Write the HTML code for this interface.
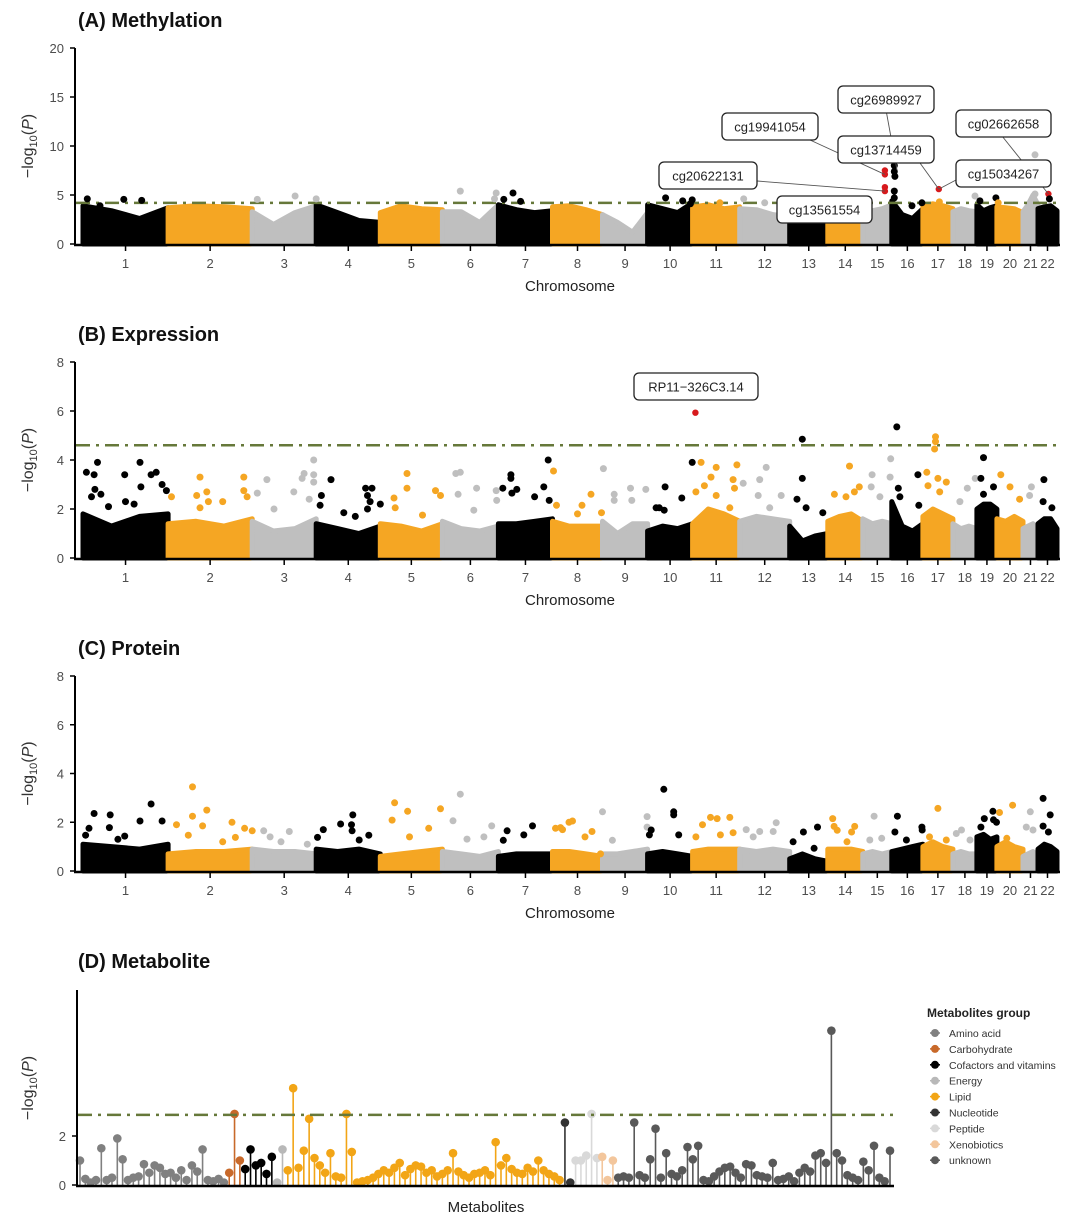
<!DOCTYPE html>
<html><head><meta charset="utf-8">
<style>
html,body{margin:0;padding:0;background:#fff;}
svg{display:block;font-family:"Liberation Sans",Arial,sans-serif;}
</style></head>
<body>
<svg id="fig" width="1080" height="1229" viewBox="0 0 1080 1229" xmlns="http://www.w3.org/2000/svg"></svg>
<script>
// ---------- DATA ----------
const chromNames = ["1","2","3","4","5","6","7","8","9","10","11","12","13","14","15","16","17","18","19","20","21","22"];
const chromLen = [85,84,64,64,62,56,54,50,45,45,47,50,38,35,29,31,30,24,20,26,15,19];

// band profiles (dense point cloud tops) per chromosome
const bandA = [[3.9,3.4,2.6,3.7],[3.7,3.9,3.8,3.6],[3.3,2.0,3.2,3.9],[4.0,3.2,2.4,2.2],[3.2,3.9,3.6,3.5],[3.3,3.3,2.2,4.0],[4.0,3.5,3.2,3.4],[3.8,3.9,3.5,3.0],[3.0,2.2,1.2,3.2],[4.0,3.6,3.2,4.2],[3.8,4.0,3.6,3.8],[3.6,3.5,3.0,2.8],[2.5,2.5,2.5,2.5],[2.6,2.6,2.6,2.6],[3.0,3.4,3.6,4.0],[4.4,3.0,2.6,3.6],[3.9,4.1,3.9,3.6],[3.3,3.6,3.4,3.3],[4.0,3.4,3.7,3.9],[3.8,3.7,3.6,3.2],[3.3,4.0,5.0,4.0],[3.6,3.8,3.9,3.4]];
const bandB = [[1.8,1.3,1.7,1.8],[1.4,1.5,1.3,1.6],[1.5,1.1,1.2,1.6],[1.4,1.2,1.0,1.3],[1.4,1.3,1.1,1.4],[1.5,1.2,1.1,1.3],[1.4,1.4,1.5,1.6],[1.5,1.3,1.3,1.3],[1.5,1.0,1.4,1.4],[1.1,1.3,1.2,1.4],[1.4,2.0,1.8,1.5],[1.5,1.7,1.6,1.5],[1.3,0.7,0.9,1.0],[1.5,1.7,1.8,1.5],[1.6,1.4,1.5,1.4],[2.3,1.3,1.1,1.4],[1.7,2.0,1.8,1.6],[1.4,1.2,1.3,1.2],[2.0,2.2,2.2,2.0],[1.6,1.5,1.7,1.5],[1.2,1.3,1.4,1.2],[1.4,1.6,1.6,1.2]];
const bandC = [[1.1,1.0,0.9,1.1],[0.7,0.8,0.8,0.9],[0.9,0.8,0.8,0.7],[0.9,0.8,0.9,0.7],[0.6,0.7,0.8,0.9],[0.8,0.7,0.6,0.8],[0.6,0.7,0.7,0.7],[0.8,0.8,0.7,0.6],[0.7,0.7,0.8,0.9],[0.7,0.8,0.7,0.6],[0.8,0.9,0.9,0.9],[0.9,0.8,0.9,0.8],[0.5,0.7,0.5,0.4],[0.9,0.9,0.9,0.8],[0.7,0.8,0.7,0.8],[0.8,0.9,1.0,1.1],[1.0,1.2,1.0,0.9],[0.7,0.8,0.7,0.7],[1.4,1.5,1.3,1.4],[1.0,1.2,1.0,0.9],[0.6,0.7,0.8,0.6],[0.9,1.1,1.0,0.8]];

// Panel A outlier points: chromosome index, relative position, -log10 P, highlighted
const aChr = [0,0,0,0,2,2,2,5,5,5,6,6,6,9,9,9,9,10,11,11,14,14,14,14,15,15,15,15,15,15,15,16,16,17,18,18,19,20,20,20,21,21];
const aPos = [0.05,0.48,0.69,0.2,0.08,0.67,1.0,0.32,0.96,0.93,0.27,0.1,0.41,0.4,0.78,0.99,0.95,0.58,0.08,0.5,0.76,0.76,0.76,0.76,0.08,0.08,0.1,0.08,0.08,0.65,0.97,0.53,0.55,0.92,0.15,0.95,0.05,0.8,0.8,0.8,0.55,0.6];
const aVal = [4.6,4.55,4.45,3.9,4.55,4.9,4.6,5.4,5.2,4.6,5.2,4.55,4.35,4.7,4.4,4.5,4.1,4.2,4.6,4.2,7.5,7.1,5.8,5.4,8.0,7.4,6.9,5.4,4.7,3.9,4.2,5.6,4.3,4.9,4.4,4.7,4.2,9.1,6.4,5.1,5.1,4.6];
const aRed = [0,0,0,0,0,0,0,0,0,0,0,0,0,0,0,0,0,0,0,0,1,1,1,1,0,0,0,0,0,0,0,1,0,0,0,0,0,0,0,0,1,0];
const aLabels = ["cg26989927","cg19941054","cg13714459","cg02662658","cg20622131","cg15034267","cg13561554"];

// Panel B outliers
const bChr = [0,0,0,0,0,0,0,0,0,0,0,0,0,0,0,0, 1,1,1,1,1,1,1,1,1,1, 2,2,2,2,2,2,2,2,2,2, 3,3,3,3,3,3,3,3,3,3,3, 4,4,4,4,4,4,4, 5,5,5,5,5,5,5, 6,6,6,6,6,6,6,6,6, 7,7,7,7,7,7, 8,8,8,8,8,8, 9,9,9,9,9,9, 10, 10,10,10,10,10,10,10,10,10,10, 11,11,11,11,11,11, 12,12,12,12,12, 13,13,13,13,13, 14,14,14,14,14, 15,15,15,15,15, 16,16,16,16,16,16,16,16, 17,17,17, 18,18,18,18, 19,19,19, 20,20, 21,21,21];
const bPos = [0.04,0.17,0.13,0.14,0.21,0.49,0.67,0.8,0.86,0.68,0.93,0.98,0.5,0.1,0.3,0.6, 0.38,0.9,0.34,0.46,0.65,0.9,0.04,0.94,0.48,0.38, 0.96,0.81,0.96,0.23,0.08,0.65,0.89,0.34,0.78,0.96, 0.23,0.08,0.06,0.77,0.87,0.8,0.84,1.0,0.43,0.61,0.8, 0.43,0.43,0.22,0.89,0.97,0.24,0.68, 0.24,0.32,0.61,0.28,0.96,0.97,0.56, 0.08,0.23,0.23,0.34,0.25,0.84,0.92,0.67,0.94, 0.02,0.08,0.77,0.59,0.5,0.98, 0.02,0.26,0.62,0.96,0.65,0.26, 0.39,0.76,0.99,0.19,0.26,0.37, 0.06, 0.18,0.5,0.94,0.39,0.86,0.25,0.07,0.89,0.5,0.79, 0.53,0.4,0.07,0.83,0.37,0.6, 0.33,0.33,0.19,0.87,0.43, 0.62,0.9,0.19,0.76,0.52, 0.96,0.32,0.94,0.29,0.59, 0.16,0.84,0.21,0.87,0.26, 0.42,0.42,0.39,0.13,0.5,0.78,0.17,0.56, 0.6,0.29,0.93, 0.33,0.2,0.83,0.33, 0.15,0.5,0.87, 0.56,0.44, 0.31,0.27,0.73];
const bVal = [3.5,3.9,3.4,2.8,2.6,3.4,3.9,3.4,3.5,2.9,3.0,2.75,2.3,2.5,2.1,2.2, 3.3,3.3,2.55,2.7,2.3,2.75,2.5,2.5,2.3,2.05, 4.0,3.45,3.4,3.2,2.65,2.7,2.4,2.0,3.25,3.1, 3.2,2.55,2.15,2.85,2.85,2.55,2.3,2.2,1.85,1.7,2.0, 3.45,2.85,2.45,2.75,2.55,2.05,1.75, 3.45,3.5,2.85,2.6,2.75,2.35,1.95, 2.85,3.4,3.25,2.8,2.65,2.9,4.0,2.5,2.35, 3.55,2.15,2.6,2.15,1.8,1.85, 3.65,2.6,2.85,2.8,2.35,2.35, 2.9,2.45,3.9,2.05,2.05,1.95, 5.93, 3.9,3.7,3.8,3.3,3.2,2.95,2.7,2.85,2.55,2.05, 3.7,3.2,3.05,2.55,2.55,2.05, 4.85,3.25,2.4,1.85,2.05, 3.75,2.9,2.6,2.7,2.5, 4.05,3.4,3.3,2.9,2.5, 5.35,3.4,2.85,2.15,2.5, 4.95,4.75,4.45,3.5,3.25,3.1,2.95,2.7, 2.85,2.3,3.25, 4.1,3.25,2.9,2.6, 3.4,2.9,2.4, 2.9,2.55, 3.2,2.3,2.05];
const bRedIndex = 88;
const bLabel = "RP11\u2212326C3.14";

// Panel C outliers
const cChr = [0,0,0,0,0,0,0,0,0,0, 1,1,1,1,1,1,1,1,1,1,1, 2,2,2,2,2, 3,3,3,3,3,3,3,3, 4,4,4,4,4,4, 5,5,5,5,5, 6,6,6,6, 7,7,7,7,7,7,7,7, 8,8,8,8, 9,9,9,9,9,9, 10,10,10,10,10,10,10, 11,11,11,11,11, 12,12,12,12, 13,13,13,13,13,13, 14,14,14, 15,15,15,15,15, 16,16,16, 17,17,17, 18,18,18,18,18, 19,19,19, 20,20,20, 21,21,21,21];
const cPos = [0.13,0.32,0.8,0.67,0.93,0.07,0.31,0.03,0.49,0.41, 0.29,0.46,0.29,0.76,0.1,0.91,1.0,0.41,0.8,0.65,0.24, 0.18,0.58,0.45,0.86,0.28, 0.57,0.11,0.38,0.55,0.56,0.82,0.02,0.67, 0.23,0.44,0.97,0.19,0.78,0.47, 0.32,0.19,0.88,0.44,0.74, 0.63,0.16,0.47,0.09, 0.06,0.16,0.33,0.4,0.2,0.65,0.79,0.96, 0.0,0.22,0.99,0.99, 0.36,0.58,0.58,0.69,0.08,0.04, 0.38,0.52,0.79,0.21,0.86,0.59,0.07, 0.73,0.4,0.13,0.67,0.27, 0.73,0.36,0.09,0.64, 0.14,0.18,0.77,0.27,0.68,0.55, 0.39,0.65,0.24, 0.18,0.1,0.97,0.98,0.47, 0.5,0.78,0.22, 0.14,0.36,0.71, 0.8,0.37,0.83,0.2,0.98, 0.6,0.1,0.38, 0.49,0.67,0.22, 0.27,0.64,0.27,0.55];
const cVal = [2.36,2.3,2.75,2.05,2.05,1.75,1.78,1.47,1.43,1.3, 3.45,2.5,2.25,2.0,1.9,1.75,1.65,1.85,1.38,1.2,1.47, 1.65,1.62,1.2,1.1,1.4, 2.3,1.7,1.93,1.9,1.65,1.47,1.38,1.27, 2.8,2.45,2.55,2.09,1.75,1.4, 3.15,2.06,1.85,1.31,1.4, 1.85,1.65,1.48,1.26, 1.75,1.78,2.0,2.05,1.7,1.4,1.62,0.7, 2.43,1.26,2.23,1.8, 3.35,2.43,2.3,1.48,1.68,1.48, 2.2,2.15,2.2,1.9,1.57,1.48,1.4, 1.98,1.62,1.7,1.62,1.4, 1.8,1.6,1.2,0.93, 2.15,1.83,1.83,1.67,1.6,1.2, 2.25,1.34,1.27, 2.25,1.6,1.8,1.68,1.27, 2.57,1.27,1.4, 1.54,1.68,1.27, 2.45,2.15,2.1,1.8,2.0, 2.7,2.4,1.34, 2.43,1.68,1.8, 2.98,2.3,1.84,1.6];

// Panel D metabolites
const metGroups = ["Amino acid","Carbohydrate","Cofactors and vitamins","Energy","Lipid","Nucleotide","Peptide","Xenobiotics","unknown"];
const metColors = ["#808080","#c8692a","#000000","#b8b8b8","#f2a516","#333333","#d9d9d9","#f3c69c","#595959"];
const metAmino = [1.0,0.25,0.1,0.2,1.5,0.2,0.3,1.9,1.05,0.2,0.3,0.35,0.85,0.5,0.8,0.7,0.45,0.5,0.3,0.6,0.2,0.8,0.55,1.45,0.2,0.15,0.25,0.1];
const metCarb = [0.5,2.9,1.0];
const metCofactor = [0.65,1.45,0.8,0.9,0.45,1.15];
const metEnergy = [0.1,1.45];
const metLipid = [0.6,3.95,0.7,1.4,2.7,1.1,0.8,0.5,1.3,0.35,0.3,2.9,1.35,0.1,0.15,0.2,0.3,0.45,0.6,0.5,0.7,0.9,0.4,0.65,0.8,0.75,0.5,0.6,0.35,0.45,0.6,1.3,0.55,0.4,0.3,0.45,0.5,0.6,0.4,1.75,0.8,1.1,0.65,0.5,0.45,0.7,0.55,1.0,0.6,0.45,0.35,0.2];
const metNucleotide = [2.55,0.1];
const metPeptide = [1.0,1.0,1.2,2.9,1.1];
const metXeno = [1.15,0.2,1.0];
const metUnknown = [0.3,0.35,0.3,2.55,0.4,0.3,1.05,2.3,0.3,1.3,0.45,0.35,0.6,1.55,1.05,1.6,0.2,0.15,0.35,0.55,0.7,0.75,0.5,0.3,0.85,0.8,0.4,0.35,0.3,0.9,0.2,0.25,0.35,0.15,0.5,0.7,0.55,1.2,1.3,0.9,6.3,1.3,1.0,0.4,0.3,0.2,0.95,0.6,1.6,0.3,0.15,1.4];
const metThreshold = 2.86;

// ---------- DRAW ----------
const NS = "http://www.w3.org/2000/svg";
const svg = document.getElementById("fig");
const chromColors = ["#000000","#f5a623","#bfbfbf"];
function mk(tag, attrs, parent){
  const e = document.createElementNS(NS, tag);
  for (const k in attrs) e.setAttribute(k, attrs[k]);
  (parent||svg).appendChild(e);
  return e;
}
const X0 = 83, X1 = 1057;
const totalLen = chromLen.reduce((a,b)=>a+b,0);
const chromStart = [];
{ let acc = 0; chromLen.forEach(l=>{ chromStart.push(acc); acc += l; }); }
function xG(ci, frac){ return X0 + (chromStart[ci] + frac*chromLen[ci]) / totalLen * (X1-X0); }

function yAxisTitle(g, cx, cy){
  const t = mk("text", {x:cx, y:cy, transform:`rotate(-90 ${cx} ${cy})`, "text-anchor":"middle", "font-size":"16", fill:"#333"}, g);
  
  
  t.innerHTML = '\u2212log<tspan font-size="11" dy="4">10</tspan><tspan dy="-4">(</tspan><tspan font-style="italic">P</tspan>)';
}

function manhattan(opts){
  const g = mk("g", {});
  
  
  const yS = v => opts.y0 - v/opts.ymax*(opts.y0-opts.y1);
  // title
  const tt = mk("text", {x:78, y:opts.titleY, "font-size":"20", "font-weight":"bold", fill:"#111"}, g);
  tt.textContent = opts.title;
  
  
  // bands
  opts.band.forEach((prof, ci) => {
    const col = chromColors[ci%3];
    let pts = [`${xG(ci,0).toFixed(1)},${opts.y0}`];
    prof.forEach((v, k) => {
      const f = prof.length===1?0.5:k/(prof.length-1);
      pts.push(`${xG(ci,f).toFixed(1)},${yS(v).toFixed(1)}`);
    });
    pts.push(`${xG(ci,1).toFixed(1)},${opts.y0}`);
    const p = mk("polygon", {points:pts.join(" "), fill:col, stroke:col, "stroke-width":"5", "stroke-linejoin":"round"}, g);
    
    
  });
  // threshold
  if (opts.thr !== null){
    const l = mk("line", {x1:76, x2:X1+3, y1:yS(opts.thr), y2:yS(opts.thr), stroke:"#66783a", "stroke-width":"2.5", "stroke-dasharray":"14 6 3 6"}, g);
    
    
  }
  // points
  opts.chr.forEach((ci, i) => {
    const red = opts.red(i);
    const c = mk("circle", {cx:xG(ci, opts.pos[i]).toFixed(1), cy:yS(opts.val[i]).toFixed(1), r: red?3.2:3.5, fill: red?"#d7191c":chromColors[ci%3]}, g);
    
    
  });
  // axes
  const ya = mk("line", {x1:75, x2:75, y1:opts.y1, y2:opts.y0+1, stroke:"#000", "stroke-width":"2"}, g);
  
  
  opts.ticks.forEach(v => {
    mk("line", {x1:70, x2:75, y1:yS(v), y2:yS(v), stroke:"#000", "stroke-width":"1.5"}, g);
    const t = mk("text", {x:64, y:yS(v)+5, "text-anchor":"end", "font-size":"13", fill:"#4d4d4d"}, g);
    t.textContent = v;
    
    
  });
  const xa = mk("line", {x1:74, x2:X1+3, y1:opts.y0+1, y2:opts.y0+1, stroke:"#000", "stroke-width":"2.5"}, g);
  
  
  chromNames.forEach((n, ci) => {
    const x = xG(ci, 0.5);
    mk("line", {x1:x, x2:x, y1:opts.y0+1, y2:opts.y0+7, stroke:"#000", "stroke-width":"1.5"}, g);
    const t = mk("text", {x:x, y:opts.y0+24, "text-anchor":"middle", "font-size":"13", fill:"#4d4d4d"}, g);
    t.textContent = n;
    
    
  });
  const xt = mk("text", {x:570, y:opts.y0+47, "text-anchor":"middle", "font-size":"15", fill:"#222"}, g);
  xt.textContent = "Chromosome";
  
  
  yAxisTitle(g, 33, (opts.y0+opts.y1)/2);
  return {g, yS};
}

function labelBox(g, text, x, y, w){
  const r = mk("rect", {x:x, y:y, width:w, height:27, rx:5, fill:"#fff", stroke:"#222", "stroke-width":"1.3"}, g);
  
  
  const t = mk("text", {x:x+w/2, y:y+18.5, "text-anchor":"middle", "font-size":"13", fill:"#222"}, g);
  t.textContent = text;
  
  
}

// Panel A
const A = manhattan({name:"panel-a-methylation", title:"(A) Methylation", titleY:27, y0:244, y1:48, ymax:20, ticks:[0,5,10,15,20], thr:4.2, band:bandA, chr:aChr, pos:aPos, val:aVal, red:i=>aRed[i]===1});
{
  const g = A.g, yS = A.yS;
  const lead = (x1,y1,x2,y2)=>{ const l = mk("line",{x1,y1,x2,y2,stroke:"#555","stroke-width":"0.9"},g);   };
  const r15 = [20,21,22,23].map(i=>[xG(aChr[i],aPos[i]), yS(aVal[i])]);
  const r17 = [xG(aChr[31],aPos[31]), yS(aVal[31])];
  const r22 = [xG(aChr[40],aPos[40]), yS(aVal[40])];
  lead(886,110,897,170); lead(810,140,r15[1][0],r15[1][1]); lead(920,163,r17[0],r17[1]);
  lead(1002,136,r22[0],r22[1]); lead(757,181,r15[3][0],r15[3][1]); lead(956,180,r17[0],r17[1]);
  labelBox(g, aLabels[0], 838, 86, 96);
  labelBox(g, aLabels[1], 722, 113, 96);
  labelBox(g, aLabels[2], 838, 136, 96);
  labelBox(g, aLabels[3], 956, 110, 95);
  labelBox(g, aLabels[4], 659, 162, 98);
  labelBox(g, aLabels[5], 956, 160, 95);
  labelBox(g, aLabels[6], 777, 196, 95);
}
// Panel B
const B = manhattan({name:"panel-b-expression", title:"(B) Expression", titleY:341, y0:558, y1:362, ymax:8, ticks:[0,2,4,6,8], thr:4.6, band:bandB, chr:bChr, pos:bPos, val:bVal, red:i=>i===bRedIndex});
labelBox(B.g, bLabel, 634, 373, 124);
// Panel C
manhattan({name:"panel-c-protein", title:"(C) Protein", titleY:655, y0:871, y1:676, ymax:8, ticks:[0,2,4,6,8], thr:null, band:bandC, chr:cChr, pos:cPos, val:cVal, red:()=>false});

// Panel D
{
  const g = mk("g", {});
  
  
  const y0 = 1185, unit = 24.5;
  const yS = v => y0 - v*unit;
  const tt = mk("text", {x:78, y:968, "font-size":"20", "font-weight":"bold", fill:"#111"}, g);
  tt.textContent = "(D) Metabolite";
  
  
  const series = [metAmino, metCarb, metCofactor, metEnergy, metLipid, metNucleotide, metPeptide, metXeno, metUnknown];
  const n = series.reduce((a,s)=>a+s.length,0);
  const xA = 80, xB = 890;
  const xM = i => xA + i*(xB-xA)/(n-1);
  let idx = 0;
  series.forEach((s, gi) => {
    s.forEach(v => {
      const x = xM(idx++);
      const st = mk("line", {x1:x, x2:x, y1:y0, y2:yS(v), stroke:metColors[gi], "stroke-width":"1.6"}, g);
      
      
      const c = mk("circle", {cx:x, cy:yS(v), r:4.3, fill:metColors[gi]}, g);
      
      
    });
  });
  const th = mk("line", {x1:78, x2:893, y1:yS(metThreshold), y2:yS(metThreshold), stroke:"#66783a", "stroke-width":"2.5", "stroke-dasharray":"14 6 3 6"}, g);
  
  
  const ya = mk("line", {x1:77, x2:77, y1:990, y2:y0+1, stroke:"#000", "stroke-width":"2"}, g);
  
  
  [0,2].forEach(v => {
    mk("line", {x1:72, x2:77, y1:yS(v), y2:yS(v), stroke:"#000", "stroke-width":"1.5"}, g);
    const t = mk("text", {x:66, y:yS(v)+5, "text-anchor":"end", "font-size":"13", fill:"#4d4d4d"}, g);
    t.textContent = v;
    
    
  });
  const xa = mk("line", {x1:76, x2:894, y1:y0+1, y2:y0+1, stroke:"#000", "stroke-width":"2.5"}, g);
  
  
  const xt = mk("text", {x:486, y:1212, "text-anchor":"middle", "font-size":"15", fill:"#222"}, g);
  xt.textContent = "Metabolites";
  
  
  yAxisTitle(g, 33, 1088);
  // legend
  const lg = mk("g", {}, g);
  
  
  const lt = mk("text", {x:927, y:1017, "font-size":"12", "font-weight":"bold", fill:"#222"}, lg);
  lt.textContent = "Metabolites group";
  
  
  metGroups.forEach((name, i) => {
    const y = 1033 + i*15.9;
    const e = mk("g", {}, lg);
    
    
    mk("line", {x1:930, x2:940, y1:y, y2:y, stroke:metColors[i], "stroke-width":"1.5"}, e);
    mk("circle", {cx:935, cy:y, r:4, fill:metColors[i]}, e);
    const t = mk("text", {x:949, y:y+4, "font-size":"10.5", fill:"#333"}, e);
    t.textContent = name;
  });
}
</script>
</body></html>
